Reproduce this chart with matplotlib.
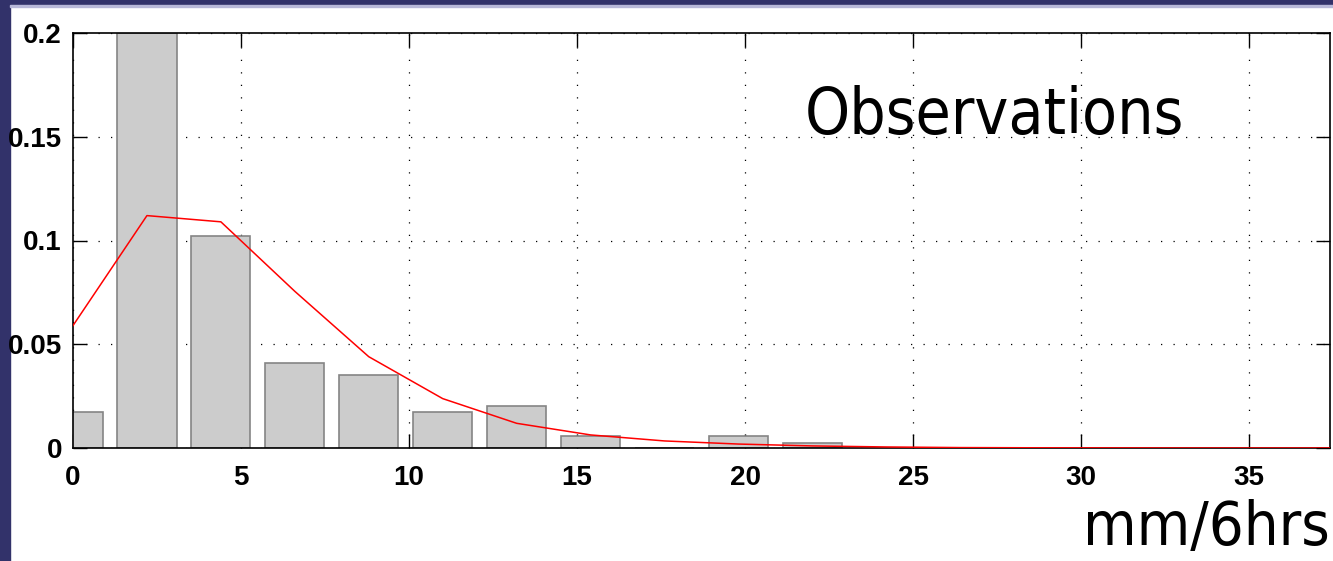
import numpy as np
import matplotlib.pyplot as plt
from matplotlib.patches import Rectangle

# bin centres (mm/6hrs) and observed frequencies
centres = [0.0, 2.2, 4.4, 6.6, 8.8, 11.0, 13.2, 15.4, 17.6, 19.8, 22.0]
freq = [0.0175, 0.2, 0.1024, 0.041, 0.0353, 0.0175, 0.0203, 0.0056, 0.0, 0.0056, 0.0026]

# fitted curve
fit_x = [0.0, 2.2, 4.4, 6.6, 8.8, 11.0, 13.2, 15.4, 17.6, 19.8, 22.0, 24.2, 26.4, 28.6, 30.8, 33.0, 35.2, 37.4]
fit_y = [0.059, 0.112, 0.109, 0.0755, 0.044, 0.0238, 0.0119, 0.0063, 0.0034, 0.0019, 0.001,
         0.0005, 0.0002, 0.0001, 0.00005, 0.0, 0.0, 0.0]

xticks = [0, 5, 10, 15, 20, 25, 30, 35]
yticks = [0, 0.05, 0.1, 0.15, 0.2]
ytick_labels = ['0', '0.05', '0.1', '0.15', '0.2']

fig = plt.figure(figsize=(13.33, 5.61), dpi=100)
fig.patch.set_facecolor('white')

# slide frame
navy = '#32326a'
fig.add_artist(Rectangle((0, 0), 10 / 1333, 1, transform=fig.transFigure, color=navy, zorder=0))
fig.add_artist(Rectangle((0, 1 - 5 / 561), 1, 5 / 561, transform=fig.transFigure, color=navy, zorder=0))
fig.add_artist(Rectangle((10 / 1333, 1 - 7 / 561), 1, 2 / 561, transform=fig.transFigure, color='#b8b8d8', zorder=0))

ax = fig.add_axes([73 / 1333, (561 - 448) / 561, (1330 - 73) / 1333, (448 - 33) / 561])
ax.bar(centres, freq, width=1.76, color='#cccccc', edgecolor='#858585', linewidth=1.2, zorder=2)
ax.plot(fit_x, fit_y, color='red', linewidth=1.1, zorder=3)

ax.set_xlim(0, 37.4)
ax.set_ylim(0, 0.2)
ax.set_xticks(xticks)
ax.set_yticks(yticks)
ax.set_yticklabels(ytick_labels)
ax.grid(True, color='black', linestyle=(0, (1, 9)), linewidth=0.9)
ax.set_axisbelow(True)
ax.tick_params(direction='in', length=10, width=1, top=True, right=True)
ax.tick_params(axis='x', pad=12)
ax.tick_params(axis='y', pad=8)
for lab in ax.get_xticklabels() + ax.get_yticklabels():
    lab.set_fontfamily('Liberation Sans')
    lab.set_fontweight('bold')
    lab.set_fontsize(20)
for s in ax.spines.values():
    s.set_linewidth(1.2)

ax.text(0.733, 0.80, 'Observations', transform=ax.transAxes, fontsize=46,
        family='DejaVu Sans', stretch='condensed', ha='center', va='center')
fig.text(0.9975, 0.005, 'mm/6hrs', fontsize=44, family='DejaVu Sans', stretch='condensed',
         ha='right', va='bottom')

fig.savefig('out.png', dpi=100)
